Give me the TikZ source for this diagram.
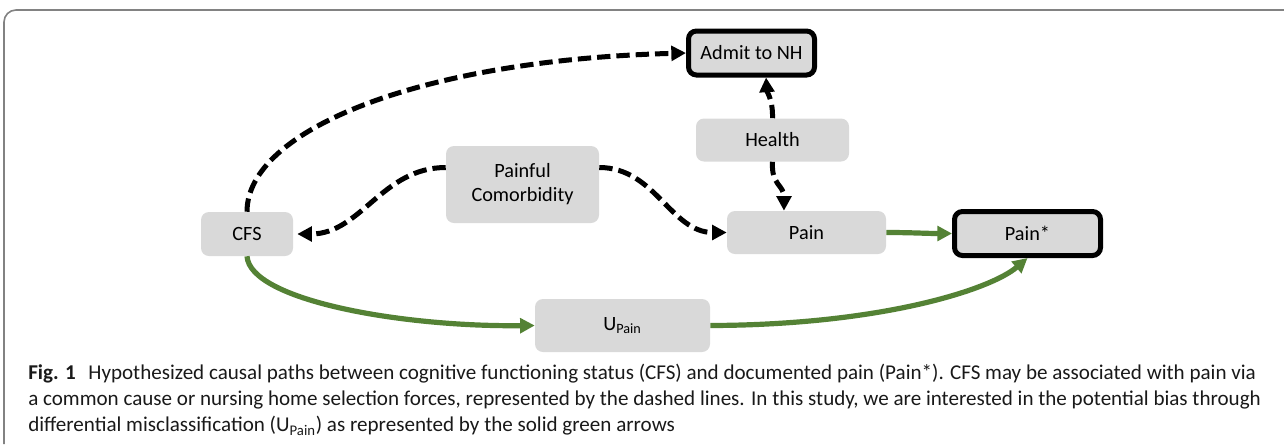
\documentclass[tikz,border=0pt]{standalone}
\usepackage{fontspec}
\setmainfont{Carlito}
\usetikzlibrary{arrows.meta}
\definecolor{boxgray}{RGB}{217,217,217}
\definecolor{arrgreen}{RGB}{84,130,53}
\definecolor{framegray}{RGB}{130,130,130}
\begin{document}
\begin{tikzpicture}[x=0.75pt,y=-0.75pt,
 box/.style={draw=none, fill=boxgray, rounded corners=6pt, font=\fontsize{15.2}{18}\selectfont, align=center, inner sep=0pt},
 thickbox/.style={box, draw=black, line width=3.75pt},
 dasharrow/.style={black, line width=3.75pt, dash pattern=on 10pt off 4.5pt, -{Triangle[length=11pt,width=11pt]}},
 greenarrow/.style={arrgreen, line width=3.9pt, -{Triangle[length=11pt,width=11pt]}},
 caption/.style={anchor=west, inner sep=0pt, font=\fontsize{15.8}{18}\selectfont, text=black!90}]
\useasboundingbox (0,0) rectangle (1284,444);
\draw[framegray, line width=1.2pt, rounded corners=9pt] (4,444) -- (4,10) -- (1284,10);

\node[thickbox, minimum width=94.5pt, minimum height=33pt] (admit) at (751.5,53) {Admit to NH};
\node[box, minimum width=114.75pt, minimum height=32.25pt] (health) at (772.5,140) {Health};
\node[box, minimum width=114.75pt, minimum height=57.75pt] (pc) at (522.5,184.5) {Painful\\Comorbidity};
\node[box, minimum width=69pt, minimum height=33pt] (cfs) at (247,234) {CFS};
\node[box, minimum width=119.25pt, minimum height=32.25pt] (pain) at (806.5,232.5) {Pain};
\node[thickbox, minimum width=109.5pt, minimum height=33pt] (painstar) at (1027.5,233.5) {Pain*};
\node[box, minimum width=131.25pt, minimum height=39.75pt] (u) at (622.5,325.5) {U\textsubscript{Pain}};

\draw[dasharrow] (cfs.north) .. controls (247,130) and (420,60) .. (admit.west);
\draw[dasharrow] ([yshift=12.75pt]pc.west) to[out=180,in=0] ([xshift=3pt]cfs.east);
\draw[dasharrow] ([yshift=12.75pt]pc.east) to[out=0,in=180] (pain.west);
\draw[dasharrow] (health.north) .. controls (773,100) and (767,92) .. ([xshift=10.9pt]admit.south);
\draw[dasharrow] (health.south) .. controls (771,185) and (784,185) .. ([xshift=-16.9pt]pain.north);

\draw[greenarrow] (pain.east) to[out=0,in=180] (painstar.west);
\draw[greenarrow] (cfs.south) .. controls (250,300) and (400,327) .. (u.west);
\draw[greenarrow] (u.east) .. controls (880,325) and (990,290) .. (painstar.south);

\node[caption] (cap1) at (28,374) {\textbf{Fig. 1}\hspace{0.6em}Hypothesized causal paths between cognitive functioning status (CFS) and documented pain (Pain*). CFS may be associated with pain via};
\node[caption] (cap2) at (28,400) {a common cause or nursing home selection forces, represented by the dashed lines. In this study, we are interested in the potential bias through};
\node[caption] (cap3) at (28,426) {differential misclassification (U\textsubscript{Pain}) as represented by the solid green arrows};
\end{tikzpicture}
\end{document}
